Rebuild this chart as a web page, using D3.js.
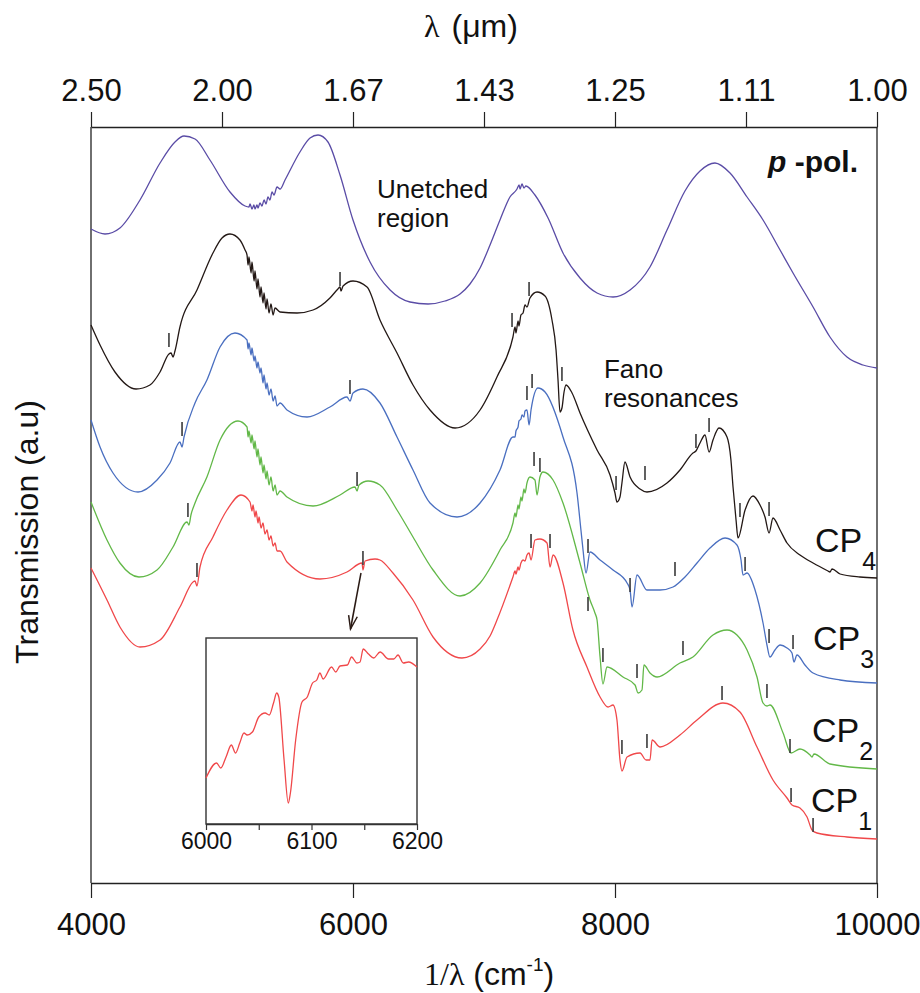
<!DOCTYPE html>
<html><head><meta charset="utf-8">
<script src="https://cdn.jsdelivr.net/npm/d3@7"></script>
<style>
body{margin:0;background:#fff;}
svg{display:block;font-family:"Liberation Sans",Arial,Helvetica,sans-serif;}
</style></head><body>
<svg id="chart" width="920" height="993"></svg>
<script>
// ---------------- DATA (x: 1/lambda in cm^-1, y: transmission a.u.) ----------------
const unetched = [[4000,654],[4107,649],[4221,655],[4374,683],[4527,720],[4641,741],[4710,747],[4794,744],[4908,723],[5061,691],[5176,677],[5206,676],[5214,679],[5229,674],[5244,678],[5252,674],[5267,678],[5275,675],[5290,680],[5305,677],[5321,683],[5336,679],[5351,686],[5366,683],[5382,691],[5397,688],[5420,696],[5443,694],[5481,703],[5595,731],[5672,745],[5733,748],[5809,741],[5901,708],[6000,663],[6130,621],[6283,593],[6435,581],[6573,579],[6702,582],[6817,589],[6893,599],[6970,615],[7046,638],[7122,663],[7198,686],[7252,694],[7268,698],[7275,694],[7290,699],[7305,695],[7320,697],[7389,688],[7489,665],[7603,630],[7733,605],[7863,590],[7985,586],[8115,593],[8267,616],[8397,653],[8534,692],[8649,712],[8763,720],[8878,710],[9008,686],[9130,663],[9260,633],[9359,610],[9512,576],[9641,546],[9771,526],[9893,518],[10000,515]];

const cp4 = [[4000,558],[4069,538],[4183,511],[4344,494],[4450,498],[4527,511],[4595,529],[4611,530],[4626,526],[4641,532],[4679,556],[4809,593],[4931,630],[5000,645],[5061,649],[5137,643],[5176,633],[5191,628],[5199,618],[5206,626],[5222,610],[5229,621],[5245,602],[5252,612],[5267,594],[5275,604],[5290,586],[5298,596],[5313,580],[5321,590],[5336,574],[5344,584],[5359,570],[5374,579],[5390,568],[5405,575],[5443,571],[5573,570],[5695,573],[5824,585],[5885,594],[5901,596],[5908,592],[5924,597],[6000,602],[6107,596],[6206,563],[6336,530],[6458,498],[6588,473],[6779,455],[6970,473],[7099,506],[7221,546],[7237,556],[7244,550],[7260,562],[7267,557],[7282,568],[7298,570],[7313,578],[7328,576],[7351,585],[7405,591],[7466,587],[7519,563],[7550,533],[7565,503],[7580,471],[7595,475],[7611,491],[7626,498],[7672,490],[7733,470],[7863,433],[7962,408],[8000,390],[8015,381],[8038,386],[8053,400],[8076,421],[8115,406],[8191,394],[8244,391],[8397,400],[8496,413],[8595,430],[8618,432],[8649,440],[8687,448],[8718,431],[8748,443],[8794,455],[8855,446],[8885,423],[8901,396],[8924,363],[8939,345],[8993,373],[9053,387],[9107,378],[9145,366],[9176,350],[9206,365],[9260,353],[9313,340],[9412,328],[9512,320],[9626,312],[9641,311],[9657,314],[9718,309],[9870,306],[10000,305]];

const cp3 = [[4000,463],[4069,436],[4168,410],[4359,391],[4504,403],[4603,420],[4679,441],[4695,436],[4710,446],[4794,480],[4885,503],[4985,536],[5099,550],[5191,543],[5199,534],[5206,540],[5222,528],[5229,535],[5245,522],[5252,527],[5267,515],[5275,521],[5290,510],[5298,515],[5313,500],[5321,508],[5336,494],[5344,500],[5359,488],[5374,494],[5390,482],[5405,487],[5420,477],[5443,480],[5496,473],[5649,466],[5824,476],[5954,486],[5977,482],[6000,490],[6076,494],[6206,480],[6336,446],[6458,413],[6588,380],[6794,366],[6970,380],[7122,413],[7221,446],[7237,446],[7244,452],[7260,456],[7267,462],[7282,464],[7290,468],[7305,466],[7313,472],[7328,473],[7344,458],[7359,473],[7412,495],[7466,491],[7603,446],[7710,390],[7740,353],[7756,333],[7779,310],[7809,331],[7886,323],[7985,313],[8092,300],[8115,293],[8130,276],[8168,308],[8244,293],[8344,293],[8443,296],[8534,306],[8626,320],[8725,335],[8840,345],[8931,338],[8962,323],[8977,308],[9008,310],[9069,293],[9130,260],[9160,238],[9183,226],[9221,233],[9260,238],[9313,235],[9351,230],[9366,221],[9389,228],[9450,218],[9512,210],[9718,203],[10000,200]];

const cp2 = [[4000,381],[4122,343],[4221,320],[4366,306],[4504,313],[4626,336],[4733,361],[4748,358],[4763,368],[4794,380],[4885,406],[4985,443],[5122,462],[5191,456],[5199,446],[5206,452],[5222,440],[5229,448],[5245,434],[5252,442],[5267,426],[5275,434],[5290,418],[5298,426],[5313,410],[5321,418],[5336,404],[5344,412],[5359,398],[5374,406],[5390,392],[5405,398],[5420,388],[5443,392],[5496,386],[5695,377],[5901,388],[6015,396],[6031,392],[6046,398],[6115,402],[6206,398],[6336,373],[6458,346],[6611,313],[6817,287],[6970,300],[7122,333],[7221,360],[7237,370],[7244,366],[7260,378],[7267,374],[7282,386],[7290,382],[7305,394],[7313,390],[7328,400],[7351,406],[7389,403],[7405,388],[7427,406],[7450,411],[7527,403],[7603,380],[7733,320],[7809,283],[7847,270],[7863,263],[7886,226],[7908,199],[7939,216],[8061,206],[8153,198],[8176,190],[8206,193],[8221,218],[8267,210],[8321,206],[8496,220],[8595,226],[8748,248],[8855,253],[8931,248],[9008,233],[9084,206],[9130,180],[9160,177],[9183,178],[9283,150],[9344,130],[9412,134],[9489,128],[9504,126],[9519,129],[9641,119],[10000,114]];

const cp1 = [[4000,315],[4122,283],[4221,256],[4374,236],[4527,243],[4679,276],[4779,301],[4794,302],[4809,297],[4832,316],[4931,346],[5038,373],[5145,388],[5214,381],[5229,372],[5237,378],[5252,366],[5260,372],[5275,360],[5283,366],[5298,355],[5313,360],[5328,349],[5344,353],[5359,343],[5374,347],[5390,337],[5405,340],[5420,332],[5443,332],[5496,321],[5748,304],[5954,311],[6069,320],[6076,313],[6092,322],[6168,324],[6206,323],[6305,310],[6458,283],[6611,246],[6832,225],[6970,234],[7046,247],[7099,263],[7221,306],[7237,312],[7244,309],[7260,316],[7267,313],[7282,320],[7298,323],[7313,322],[7328,328],[7344,330],[7359,323],[7389,343],[7427,344],[7481,340],[7504,316],[7527,328],[7603,300],[7679,253],[7786,216],[7886,186],[7947,176],[7985,178],[8015,163],[8038,123],[8053,112],[8092,126],[8191,130],[8237,123],[8267,123],[8283,143],[8344,136],[8496,148],[8626,163],[8824,180],[8954,171],[9084,136],[9206,103],[9313,85],[9351,78],[9412,75],[9466,66],[9504,53],[9542,50],[9771,46],[10000,44]];

// resonance markers: [wavenumber, a.u. of marker top]
const marksCP4 = [[4595,550],[5901,611],[7214,570],[7344,601],[7595,516],[8008,407],[8229,417],[8618,449],[8718,465],[8954,380],[9176,381]];
const marksCP3 = [[4695,461],[5977,503],[7328,497],[7367,509],[7794,344],[8115,305],[8458,321],[8993,326],[9176,254],[9359,248]];
const marksCP2 = [[4740,380],[6031,411],[7382,431],[7427,425],[7794,286],[7908,235],[8168,219],[8519,242],[9160,199],[9336,144]];
const marksCP1 = [[4809,320],[6076,332],[7359,349],[7504,349],[8053,143],[8244,149],[8817,197],[9344,95],[9512,65]];

// inset (zoom of CP1 around the 6078 cm^-1 resonance)
const insetCP1 = [[6000,46],[6010,61],[6014,56],[6019,67],[6024,79],[6028,71],[6032,81],[6036,91],[6039,89],[6044,92],[6050,107],[6056,111],[6060,109],[6064,121],[6067,131],[6069,127],[6074,64],[6078,21],[6080,31],[6085,84],[6091,122],[6096,127],[6101,141],[6105,144],[6108,151],[6111,145],[6119,157],[6123,152],[6127,158],[6134,159],[6138,167],[6143,161],[6146,162],[6149,175],[6154,170],[6159,166],[6165,172],[6173,165],[6178,165],[6182,169],[6187,161],[6192,162],[6200,157]];
const insetTicks = [6000,6050,6100,6150,6200];
const insetLabeled = [6000,6100,6200];

// axes
const bottomTicks = [4000,6000,8000,10000];
const topTickValues = [4000,5000,6000,7000,8000,9000,10000];
const topTickLabels = ["2.50","2.00","1.67","1.43","1.25","1.11","1.00"];

// series meta
const seriesNames = ["Unetched","CP4","CP3","CP2","CP1"];
const seriesData = [unetched,cp4,cp3,cp2,cp1];
const seriesColors = ["#5a4ca6","#231815","#4a6fc0","#62b848","#f0484a"];
const seriesMarks = [[],marksCP4,marksCP3,marksCP2,marksCP1];

// labels: [name, subscript, x(cm^-1), y(a.u.)]
const cpLabels = [["CP","4",9527,331],["CP","3",9512,233],["CP","2",9504,141],["CP","1",9496,71]];
const arrowFrom = [6061,310], arrowTo = [5981,254];

// ---------------- DRAWING ----------------
const svg = d3.select("#chart");
const x = d3.scaleLinear().domain([4000,10000]).range([91,877]);
const y = d3.scaleLinear().domain([0,756]).range([883,127]);
const line = d3.line().x(d=>x(d[0])).y(d=>y(d[1])).curve(d3.curveMonotoneX);

// frame sides
svg.append("line").attr("x1",x(4000)).attr("x2",x(4000)).attr("y1",y(0)).attr("y2",y(756)).attr("stroke","#222").attr("stroke-width",1.3);
svg.append("line").attr("x1",x(10000)).attr("x2",x(10000)).attr("y1",y(0)).attr("y2",y(756)).attr("stroke","#222").attr("stroke-width",1.3);

// bottom axis
const gb = svg.append("g").attr("transform",`translate(0,${y(0)})`)
  .call(d3.axisBottom(x).tickValues(bottomTicks).tickFormat(d3.format("d")).tickSize(15).tickSizeOuter(0).tickPadding(15));
// top axis
const gt = svg.append("g").attr("transform",`translate(0,${y(756)})`)
  .call(d3.axisTop(x).tickValues(topTickValues).tickFormat((d,i)=>topTickLabels[i]).tickSize(15).tickSizeOuter(0).tickPadding(11));
[gb,gt].forEach(g=>{
  g.select(".domain").attr("stroke","#222").attr("stroke-width",1.3);
  g.selectAll(".tick line").attr("stroke","#222").attr("stroke-width",1.2);
  g.selectAll(".tick text").attr("font-size",31).attr("fill","#111").attr("font-family","'Liberation Sans',Arial,sans-serif");
});

// series
seriesData.forEach((data,i)=>{
  svg.append("path").datum(data).attr("d",line).attr("fill","none")
    .attr("stroke",seriesColors[i]).attr("stroke-width",1.3).attr("stroke-linejoin","round");
  svg.append("g").selectAll("line").data(seriesMarks[i]).join("line")
    .attr("x1",d=>x(d[0])).attr("x2",d=>x(d[0]))
    .attr("y1",d=>y(d[1])).attr("y2",d=>y(d[1])+14)
    .attr("stroke","#3a3a3a").attr("stroke-width",1.6);
});

// inset
const xi = d3.scaleLinear().domain([6000,6200]).range([206,417]);
const yi = d3.scaleLinear().domain([0,186]).range([824,638]);
svg.append("rect").attr("x",xi(6000)).attr("y",yi(186)).attr("width",xi(6200)-xi(6000)).attr("height",yi(0)-yi(186))
  .attr("fill","#fff").attr("stroke","#333").attr("stroke-width",1.4);
const gi = svg.append("g").attr("transform",`translate(0,${yi(0)})`)
  .call(d3.axisBottom(xi).tickValues(insetTicks).tickFormat(d=>insetLabeled.includes(d)?d3.format("d")(d):"").tickSize(6).tickSizeOuter(0).tickPadding(3));
gi.select(".domain").attr("stroke","#333").attr("stroke-width",1.4);
gi.selectAll(".tick line").attr("stroke","#333").attr("stroke-width",1.2);
gi.selectAll(".tick text").attr("font-size",23).attr("fill","#111");
svg.append("path").datum(insetCP1)
  .attr("d",d3.line().x(d=>xi(d[0])).y(d=>yi(d[1])).curve(d3.curveMonotoneX))
  .attr("fill","none").attr("stroke","#f0484a").attr("stroke-width",1.3);

// arrow
{
  const x1=x(arrowFrom[0]),y1=y(arrowFrom[1]),x2=x(arrowTo[0]),y2=y(arrowTo[1]);
  const a=Math.atan2(y2-y1,x2-x1), L=14, sp=0.32;
  svg.append("line").attr("x1",x1).attr("y1",y1).attr("x2",x2).attr("y2",y2).attr("stroke","#2a1a14").attr("stroke-width",1.5);
  svg.append("path").attr("d",`M${x2-L*Math.cos(a-sp)},${y2-L*Math.sin(a-sp)}L${x2},${y2}L${x2-L*Math.cos(a+sp)},${y2-L*Math.sin(a+sp)}`)
    .attr("fill","none").attr("stroke","#2a1a14").attr("stroke-width",1.5);
}

// annotations
const ann = svg.append("g").attr("fill","#111");
ann.append("text").attr("x",x(6183)).attr("y",y(685)).attr("font-size",26).text("Unetched");
ann.append("text").attr("x",x(6183)).attr("y",y(656)).attr("font-size",26).text("region");
ann.append("text").attr("x",x(7916)).attr("y",y(505)).attr("font-size",26).text("Fano");
ann.append("text").attr("x",x(7916)).attr("y",y(476)).attr("font-size",26).text("resonances");
const pp = ann.append("text").attr("x",x(9855)).attr("y",y(711)).attr("font-size",30).attr("font-weight","bold").attr("text-anchor","end");
pp.append("tspan").attr("font-style","italic").text("p");
pp.append("tspan").text(" -pol.");
cpLabels.forEach(l=>{
  const t = ann.append("text").attr("x",x(l[2])).attr("y",y(l[3])).attr("font-size",34);
  t.append("tspan").text(l[0]);
  t.append("tspan").attr("font-size",25).attr("dy",18).text(l[1]);
});

// axis titles
const tt = svg.append("text").attr("x",424).attr("y",37).attr("font-size",32).attr("fill","#111");
tt.append("tspan").attr("font-family","'Liberation Serif','Times New Roman',serif").text("λ");
tt.append("tspan").attr("dx",12).text("(μm)");
const bt = svg.append("text").attr("x",424).attr("y",985).attr("font-size",32).attr("fill","#111");
bt.append("tspan").attr("font-family","'Liberation Serif','Times New Roman',serif").text("1/λ");
bt.append("tspan").text(" (cm");
bt.append("tspan").attr("font-size",19).attr("dy",-14).text("-1");
bt.append("tspan").attr("dy",14).text(")");
svg.append("text").attr("transform","translate(38,532) rotate(-90)").attr("text-anchor","middle")
  .attr("font-size",32).attr("fill","#111").text("Transmission (a.u)");
</script>
</body></html>
